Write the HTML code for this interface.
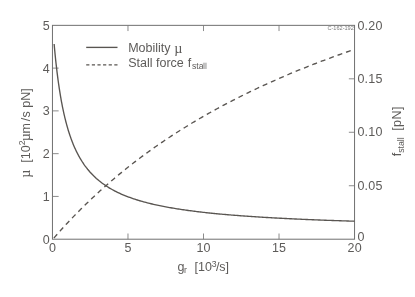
<!DOCTYPE html>
<html><head><meta charset="utf-8"><title>chart</title>
<style>
html,body{margin:0;padding:0;background:#fff;}
body{width:415px;height:297px;overflow:hidden;}
svg{display:block;will-change:transform;}
text{font-family:"Liberation Sans",sans-serif;font-size:12.5px;fill:#5d5b59;}
.sm{font-size:8.7px;}
.sy{font-family:"Liberation Serif",serif;font-size:14.2px;}
</style></head><body>
<svg width="415" height="297" viewBox="0 0 415 297">
<rect width="415" height="297" fill="#fff"/>
<rect x="52.45" y="25.35" width="302.10" height="213.85" stroke="#707070" stroke-width="1" fill="none"/>
<g stroke="#777" stroke-width="0.85" fill="none">
<line x1="52.45" y1="196.43" x2="58.650000000000006" y2="196.43"/>
<line x1="52.45" y1="153.66" x2="58.650000000000006" y2="153.66"/>
<line x1="52.45" y1="110.89" x2="58.650000000000006" y2="110.89"/>
<line x1="52.45" y1="68.12" x2="58.650000000000006" y2="68.12"/>
<line x1="354.55" y1="185.74" x2="348.85" y2="185.74"/>
<line x1="354.55" y1="132.27" x2="348.85" y2="132.27"/>
<line x1="354.55" y1="78.81" x2="348.85" y2="78.81"/>
<line x1="127.98" y1="239.2" x2="127.98" y2="233.5"/>
<line x1="127.98" y1="25.35" x2="127.98" y2="31.05"/>
<line x1="203.50" y1="239.2" x2="203.50" y2="233.5"/>
<line x1="203.50" y1="25.35" x2="203.50" y2="31.05"/>
<line x1="279.03" y1="239.2" x2="279.03" y2="233.5"/>
<line x1="279.03" y1="25.35" x2="279.03" y2="31.05"/>
</g>
<path d="M54.13,44.02 L54.45,47.58 L54.77,51.01 L55.09,54.32 L55.41,57.50 L55.73,60.57 L56.05,63.54 L56.38,66.40 L56.70,69.17 L57.02,71.85 L57.34,74.44 L57.66,76.95 L57.98,79.37 L58.30,81.72 L58.62,84.01 L58.94,86.22 L59.26,88.36 L59.59,90.45 L59.91,92.47 L60.23,94.44 L60.55,96.35 L60.87,98.20 L61.19,100.01 L61.51,101.77 L61.83,103.48 L62.15,105.15 L62.47,106.77 L62.80,108.36 L63.12,109.90 L63.44,111.41 L63.76,112.87 L64.08,114.31 L64.40,115.70 L64.72,117.07 L65.04,118.40 L65.36,119.70 L65.69,120.98 L66.01,122.22 L66.33,123.44 L66.65,124.62 L66.97,125.79 L67.29,126.92 L67.61,128.04 L67.93,129.13 L68.25,130.19 L68.57,131.24 L68.90,132.26 L69.22,133.27 L69.54,134.25 L69.86,135.21 L70.18,136.15 L70.50,137.08 L70.82,137.99 L71.14,138.88 L71.46,139.75 L71.78,140.61 L72.11,141.45 L72.43,142.27 L72.75,143.08 L73.07,143.88 L73.39,144.66 L73.71,145.43 L74.03,146.18 L74.35,146.92 L74.67,147.65 L75.00,148.37 L75.32,149.07 L75.64,149.76 L75.96,150.44 L76.28,151.11 L76.60,151.77 L76.92,152.41 L77.24,153.05 L77.56,153.68 L77.88,154.29 L78.21,154.90 L78.53,155.50 L78.85,156.08 L79.17,156.66 L79.49,157.23 L79.81,157.79 L80.13,158.34 L80.45,158.89 L80.77,159.42 L81.09,159.95 L81.42,160.47 L81.74,160.99 L82.06,161.49 L82.38,161.99 L82.70,162.48 L83.94,164.31 L85.18,166.05 L86.42,167.70 L87.66,169.27 L88.91,170.76 L90.15,172.19 L91.39,173.54 L92.63,174.84 L93.87,176.08 L95.11,177.26 L96.35,178.40 L97.59,179.48 L98.83,180.53 L100.08,181.53 L101.32,182.49 L102.56,183.42 L103.80,184.31 L105.04,185.17 L106.28,186.00 L107.52,186.79 L108.76,187.56 L110.00,188.31 L111.25,189.03 L112.49,189.72 L113.73,190.39 L114.97,191.05 L116.21,191.68 L117.45,192.29 L118.69,192.88 L119.93,193.45 L121.17,194.01 L122.42,194.55 L123.66,195.08 L124.90,195.59 L126.14,196.08 L127.38,196.56 L128.62,197.03 L129.86,197.49 L131.10,197.93 L132.34,198.37 L133.58,198.79 L134.83,199.20 L136.07,199.60 L137.31,199.99 L138.55,200.37 L139.79,200.74 L141.03,201.10 L142.27,201.46 L143.51,201.80 L144.75,202.14 L146.00,202.47 L147.24,202.79 L148.48,203.11 L149.72,203.42 L150.96,203.72 L152.20,204.01 L153.44,204.30 L154.68,204.59 L155.92,204.86 L157.17,205.13 L158.41,205.40 L159.65,205.66 L160.89,205.91 L162.13,206.16 L163.37,206.41 L164.61,206.65 L165.85,206.88 L167.09,207.11 L168.34,207.34 L169.58,207.56 L170.82,207.78 L172.06,207.99 L173.30,208.20 L174.54,208.41 L175.78,208.61 L177.02,208.81 L178.26,209.01 L179.51,209.20 L180.75,209.39 L181.99,209.57 L183.23,209.76 L184.47,209.94 L185.71,210.11 L186.95,210.28 L188.19,210.46 L189.43,210.62 L190.68,210.79 L191.92,210.95 L193.16,211.11 L194.40,211.27 L195.64,211.42 L196.88,211.57 L198.12,211.72 L199.36,211.87 L200.60,212.02 L201.85,212.16 L203.09,212.30 L204.33,212.44 L205.57,212.58 L206.81,212.71 L208.05,212.84 L209.29,212.97 L210.53,213.10 L211.77,213.23 L213.02,213.36 L214.26,213.48 L215.50,213.60 L216.74,213.72 L217.98,213.84 L219.22,213.96 L220.46,214.07 L221.70,214.19 L222.94,214.30 L224.18,214.41 L225.43,214.52 L226.67,214.63 L227.91,214.73 L229.15,214.84 L230.39,214.94 L231.63,215.05 L232.87,215.15 L234.11,215.25 L235.35,215.35 L236.60,215.44 L237.84,215.54 L239.08,215.63 L240.32,215.73 L241.56,215.82 L242.80,215.91 L244.04,216.00 L245.28,216.09 L246.52,216.18 L247.77,216.27 L249.01,216.35 L250.25,216.44 L251.49,216.52 L252.73,216.61 L253.97,216.69 L255.21,216.77 L256.45,216.85 L257.69,216.93 L258.94,217.01 L260.18,217.09 L261.42,217.16 L262.66,217.24 L263.90,217.32 L265.14,217.39 L266.38,217.46 L267.62,217.54 L268.86,217.61 L270.11,217.68 L271.35,217.75 L272.59,217.82 L273.83,217.89 L275.07,217.96 L276.31,218.02 L277.55,218.09 L278.79,218.16 L280.03,218.22 L281.28,218.29 L282.52,218.35 L283.76,218.42 L285.00,218.48 L286.24,218.54 L287.48,218.60 L288.72,218.66 L289.96,218.72 L291.20,218.78 L292.45,218.84 L293.69,218.90 L294.93,218.96 L296.17,219.02 L297.41,219.08 L298.65,219.13 L299.89,219.19 L301.13,219.24 L302.37,219.30 L303.62,219.35 L304.86,219.41 L306.10,219.46 L307.34,219.51 L308.58,219.56 L309.82,219.62 L311.06,219.67 L312.30,219.72 L313.54,219.77 L314.78,219.82 L316.03,219.87 L317.27,219.92 L318.51,219.97 L319.75,220.02 L320.99,220.06 L322.23,220.11 L323.47,220.16 L324.71,220.21 L325.95,220.25 L327.20,220.30 L328.44,220.34 L329.68,220.39 L330.92,220.43 L332.16,220.48 L333.40,220.52 L334.64,220.56 L335.88,220.61 L337.12,220.65 L338.37,220.69 L339.61,220.74 L340.85,220.78 L342.09,220.82 L343.33,220.86 L344.57,220.90 L345.81,220.94 L347.05,220.98 L348.29,221.02 L349.54,221.06 L350.78,221.10 L352.02,221.14 L353.26,221.18 L354.50,221.22" fill="none" stroke="#595551" stroke-width="1.35" stroke-linejoin="round"/>
<path d="M53.91,238.01 L55.12,236.62 L56.33,235.24 L57.54,233.87 L58.74,232.51 L59.95,231.16 L61.16,229.82 L62.37,228.49 L63.58,227.16 L64.79,225.85 L65.99,224.54 L67.20,223.24 L68.41,221.95 L69.62,220.67 L70.83,219.40 L72.04,218.13 L73.24,216.88 L74.45,215.63 L75.66,214.38 L76.87,213.15 L78.08,211.92 L79.29,210.71 L80.50,209.50 L81.70,208.29 L82.91,207.10 L84.12,205.91 L85.33,204.73 L86.54,203.55 L87.75,202.39 L88.95,201.23 L90.16,200.08 L91.37,198.93 L92.58,197.79 L93.79,196.66 L95.00,195.54 L96.20,194.42 L97.41,193.31 L98.62,192.20 L99.83,191.11 L101.04,190.01 L102.25,188.93 L103.45,187.85 L104.66,186.78 L105.87,185.71 L107.08,184.65 L108.29,183.60 L109.50,182.55 L110.71,181.51 L111.91,180.48 L113.12,179.45 L114.33,178.42 L115.54,177.41 L116.75,176.39 L117.96,175.39 L119.16,174.39 L120.37,173.39 L121.58,172.41 L122.79,171.42 L124.00,170.44 L125.21,169.47 L126.41,168.50 L127.62,167.54 L128.83,166.59 L130.04,165.64 L131.25,164.69 L132.46,163.75 L133.66,162.82 L134.87,161.89 L136.08,160.96 L137.29,160.04 L138.50,159.13 L139.71,158.22 L140.92,157.31 L142.12,156.41 L143.33,155.51 L144.54,154.62 L145.75,153.74 L146.96,152.86 L148.17,151.98 L149.37,151.11 L150.58,150.24 L151.79,149.38 L153.00,148.52 L154.21,147.67 L155.42,146.82 L156.62,145.97 L157.83,145.13 L159.04,144.30 L160.25,143.47 L161.46,142.64 L162.67,141.82 L163.87,141.00 L165.08,140.18 L166.29,139.37 L167.50,138.57 L168.71,137.77 L169.92,136.97 L171.13,136.17 L172.33,135.38 L173.54,134.60 L174.75,133.82 L175.96,133.04 L177.17,132.26 L178.38,131.49 L179.58,130.73 L180.79,129.96 L182.00,129.20 L183.21,128.45 L184.42,127.70 L185.63,126.95 L186.83,126.21 L188.04,125.47 L189.25,124.73 L190.46,124.00 L191.67,123.27 L192.88,122.54 L194.08,121.82 L195.29,121.10 L196.50,120.38 L197.71,119.67 L198.92,118.96 L200.13,118.26 L201.34,117.55 L202.54,116.85 L203.75,116.16 L204.96,115.47 L206.17,114.78 L207.38,114.09 L208.59,113.41 L209.79,112.73 L211.00,112.05 L212.21,111.38 L213.42,110.71 L214.63,110.04 L215.84,109.38 L217.04,108.72 L218.25,108.06 L219.46,107.41 L220.67,106.76 L221.88,106.11 L223.09,105.46 L224.29,104.82 L225.50,104.18 L226.71,103.54 L227.92,102.91 L229.13,102.28 L230.34,101.65 L231.55,101.03 L232.75,100.40 L233.96,99.78 L235.17,99.17 L236.38,98.55 L237.59,97.94 L238.80,97.33 L240.00,96.73 L241.21,96.12 L242.42,95.52 L243.63,94.92 L244.84,94.33 L246.05,93.73 L247.25,93.14 L248.46,92.56 L249.67,91.97 L250.88,91.39 L252.09,90.81 L253.30,90.23 L254.50,89.66 L255.71,89.08 L256.92,88.51 L258.13,87.95 L259.34,87.38 L260.55,86.82 L261.76,86.26 L262.96,85.70 L264.17,85.14 L265.38,84.59 L266.59,84.04 L267.80,83.49 L269.01,82.94 L270.21,82.40 L271.42,81.86 L272.63,81.32 L273.84,80.78 L275.05,80.25 L276.26,79.71 L277.46,79.18 L278.67,78.65 L279.88,78.13 L281.09,77.60 L282.30,77.08 L283.51,76.56 L284.71,76.04 L285.92,75.53 L287.13,75.01 L288.34,74.50 L289.55,73.99 L290.76,73.49 L291.97,72.98 L293.17,72.48 L294.38,71.98 L295.59,71.48 L296.80,70.98 L298.01,70.48 L299.22,69.99 L300.42,69.50 L301.63,69.01 L302.84,68.52 L304.05,68.04 L305.26,67.55 L306.47,67.07 L307.67,66.59 L308.88,66.12 L310.09,65.64 L311.30,65.17 L312.51,64.69 L313.72,64.22 L314.92,63.75 L316.13,63.29 L317.34,62.82 L318.55,62.36 L319.76,61.90 L320.97,61.44 L322.18,60.98 L323.38,60.52 L324.59,60.07 L325.80,59.62 L327.01,59.17 L328.22,58.72 L329.43,58.27 L330.63,57.82 L331.84,57.38 L333.05,56.94 L334.26,56.50 L335.47,56.06 L336.68,55.62 L337.88,55.19 L339.09,54.75 L340.30,54.32 L341.51,53.89 L342.72,53.46 L343.93,53.03 L345.13,52.61 L346.34,52.18 L347.55,51.76 L348.76,51.34 L349.97,50.92 L351.18,50.50 L352.39,50.08 L353.59,49.67 L354.50,49.36" fill="none" stroke="#595551" stroke-width="1.35" stroke-dasharray="5 3.98"/>
<line x1="86.2" y1="47.4" x2="117.5" y2="47.4" stroke="#595551" stroke-width="1.35"/>
<line x1="86.2" y1="64.9" x2="117.5" y2="64.9" stroke="#595551" stroke-width="1.35" stroke-dasharray="3.2 2.42"/>
<text x="128.2" y="52.2">Mobility <tspan class="sy" dy="0.5" dx="0.2">µ</tspan></text>
<text x="128.2" y="67.2">Stall force<tspan dx="0.6"> f</tspan><tspan class="sm" dy="2.0" dx="0.6">sta</tspan></text>
<rect x="202.9" y="62.7" width="3.9" height="6.3" fill="#c2c2c2"/>
<text x="327.4" y="29.9" style="font-size:5.6px;fill:#7a7a7a">C-162-192</text>
<text x="49.8" y="243.60" text-anchor="end">0</text>
<text x="49.8" y="200.83" text-anchor="end">1</text>
<text x="49.8" y="158.06" text-anchor="end">2</text>
<text x="49.8" y="115.29" text-anchor="end">3</text>
<text x="49.8" y="72.52" text-anchor="end">4</text>
<text x="49.8" y="29.75" text-anchor="end">5</text>
<text x="357.4" y="241.00" style="letter-spacing:0.25px">0</text>
<text x="357.4" y="189.94" style="letter-spacing:0.25px">0.05</text>
<text x="357.4" y="136.47" style="letter-spacing:0.25px">0.10</text>
<text x="357.4" y="83.01" style="letter-spacing:0.25px">0.15</text>
<text x="357.4" y="29.55" style="letter-spacing:0.25px">0.20</text>
<text x="52.55" y="251.6" text-anchor="middle" style="letter-spacing:0.2px">0</text>
<text x="128.08" y="251.6" text-anchor="middle" style="letter-spacing:0.2px">5</text>
<text x="203.60" y="251.6" text-anchor="middle" style="letter-spacing:0.2px">10</text>
<text x="279.13" y="251.6" text-anchor="middle" style="letter-spacing:0.2px">15</text>
<text x="354.65" y="251.6" text-anchor="middle" style="letter-spacing:0.2px">20</text>
<text x="177.4" y="271.2">g<tspan class="sm" dy="1.6" dx="-0.3">r</tspan><tspan dy="-1.6" dx="7.6">[10</tspan><tspan class="sm" dy="-4.6" dx="-0.2">3</tspan><tspan dy="4.6" dx="-0.7">/s]</tspan></text>
<text transform="translate(30.4,177.8) rotate(-90)"><tspan class="sy">µ</tspan><tspan dx="6.8" style="letter-spacing:0.1px">[10</tspan><tspan class="sm" dy="-5.8" dx="0">2</tspan><tspan dy="5.8" dx="-1.0" style="letter-spacing:0.07px"><tspan class="sy">µ</tspan><tspan dx="-0.4">m</tspan><tspan dx="1.8">/s pN]</tspan></tspan></text>
<text transform="translate(401.3,156.3) rotate(-90)">f<tspan class="sm" dy="3">stall</tspan><tspan dy="-3" dx="6.6" style="letter-spacing:0.4px">[pN]</tspan></text>
</svg>
</body></html>
